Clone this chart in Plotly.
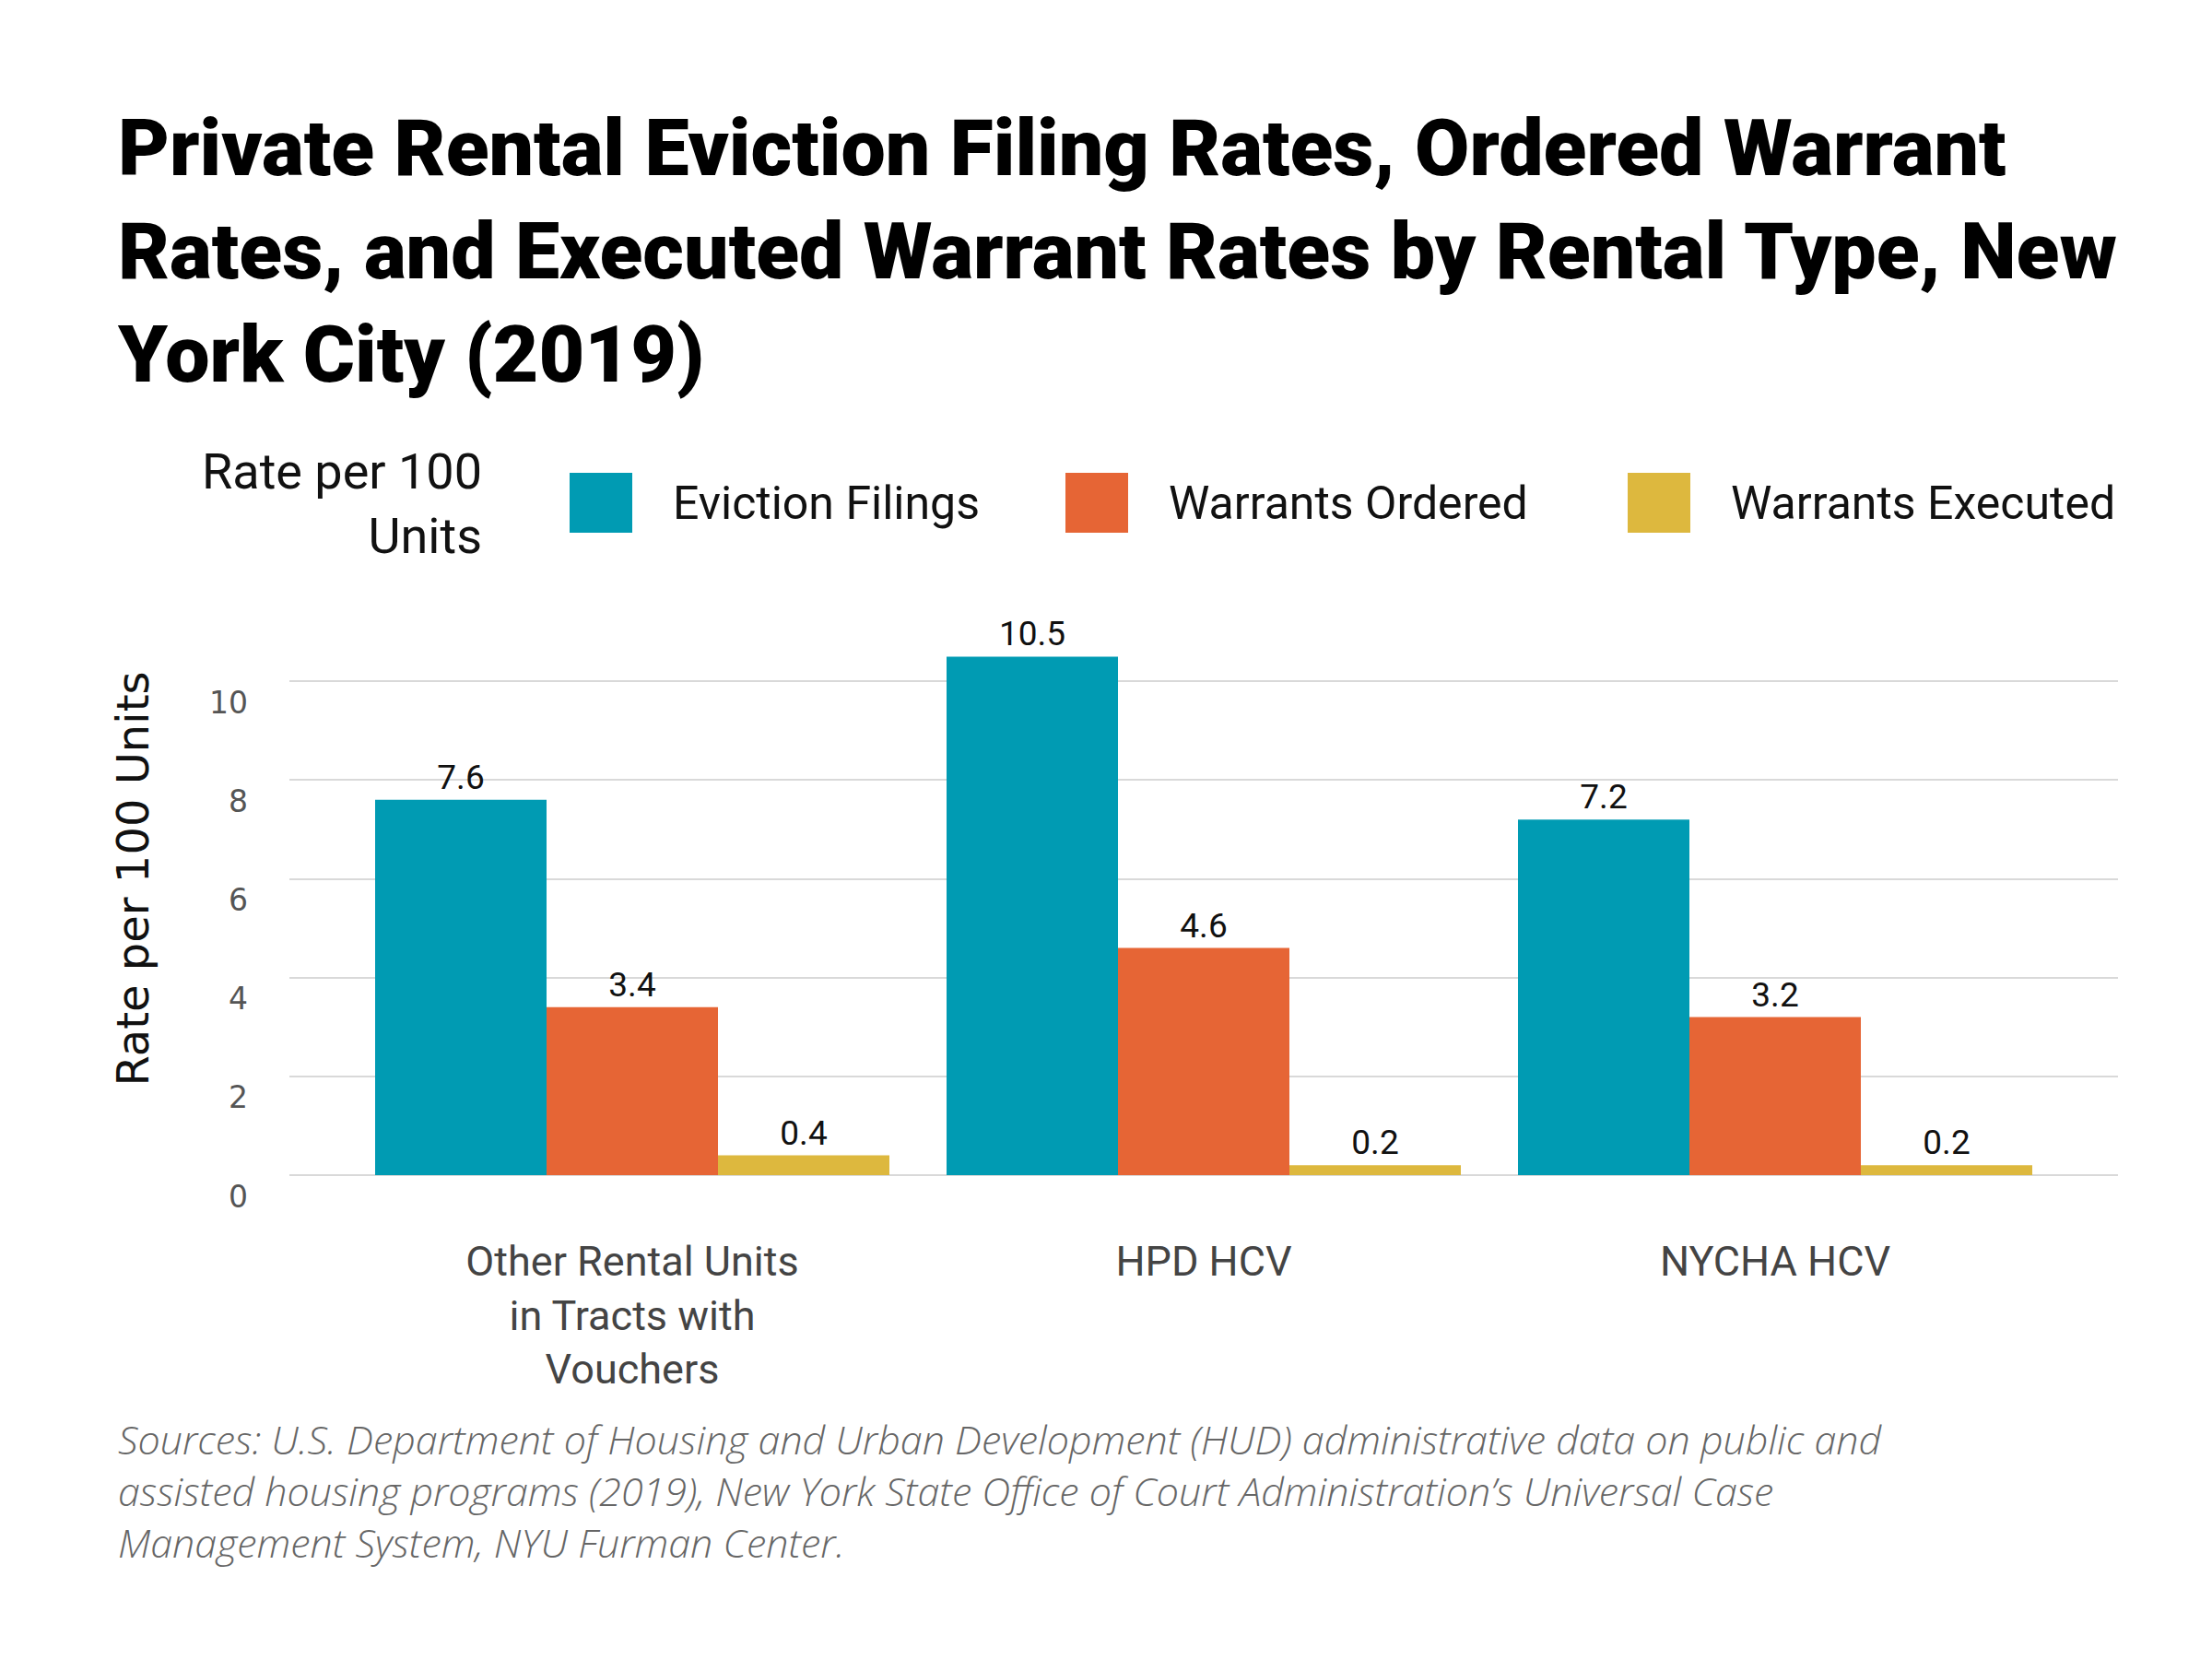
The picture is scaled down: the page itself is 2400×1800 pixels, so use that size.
import plotly.graph_objects as go

categories = ["Other Rental Units<br>in Tracts with<br>Vouchers", "HPD HCV", "NYCHA HCV"]
series_names = ["Eviction Filings", "Warrants Ordered", "Warrants Executed"]
eviction_filings = [7.6, 10.5, 7.2]
warrants_ordered = [3.4, 4.6, 3.2]
warrants_executed = [0.4, 0.2, 0.2]
y_ticks = [0, 2, 4, 6, 8, 10]

colors = ["#009bb3", "#e66535", "#ddb83e"]

title = ("Private Rental Eviction Filing Rates, Ordered Warrant<br>"
         "Rates, and Executed Warrant Rates by Rental Type, New<br>"
         "York City (2019)")
source = ("Sources: U.S. Department of Housing and Urban Development (HUD) administrative data on public and<br>"
          "assisted housing programs (2019), New York State Office of Court Administration\u2019s Universal Case<br>"
          "Management System, NYU Furman Center.")

W, H = 2400, 1800
OFF = 8  # page body margin pushes the figure 8px right/down
L, R, T, B = 314 - OFF, 102 + OFF, 632 - OFF, 525 + OFF


def px(x):
    # page pixel -> paper x
    return (x - OFF - L) / (W - L - R)


def py(y):
    # page pixel -> paper y
    return (H - B - (y - OFF)) / (H - T - B)


fig = go.Figure()
for name, vals, col in zip(series_names, [eviction_filings, warrants_ordered, warrants_executed], colors):
    fig.add_trace(go.Bar(
        x=categories, y=vals, name=name, marker=dict(color=col, line=dict(width=0)),
        texttemplate="%{y:.1f}", textposition="outside",
        textfont=dict(family="Roboto", size=37, color="#111"),
        cliponaxis=False, showlegend=False,
    ))

# hand-drawn legend with big square swatches
legend_x = [618, 1156, 1766]
shapes = []
annotations = []
for name, col, x0 in zip(series_names, colors, legend_x):
    shapes.append(dict(type="rect", xref="paper", yref="paper",
                       x0=px(x0), x1=px(x0 + 68), y0=py(578), y1=py(513),
                       fillcolor=col, line=dict(width=0)))
    annotations.append(dict(text=name, xref="paper", yref="paper", x=px(x0 + 110), y=py(546),
                            xanchor="left", yanchor="middle", showarrow=False,
                            font=dict(family="Roboto", size=50, color="#111")))
annotations.append(dict(text="Rate per 100<br>Units", xref="paper", yref="paper", x=px(525), y=py(546),
                        xanchor="right", yanchor="middle", align="right", showarrow=False,
                        font=dict(family="Roboto", size=54, color="#111")))
annotations.append(dict(text=source, xref="paper", yref="paper", x=px(126), y=py(1530),
                        xanchor="left", yanchor="top", align="left", showarrow=False,
                        font=dict(family="Open Sans", size=43, weight=300, color="#666", style="italic")))

fig.update_layout(
    width=W, height=H,
    margin=dict(l=L, r=R, t=T, b=B, autoexpand=False),
    paper_bgcolor="white", plot_bgcolor="white",
    barmode="group", bargap=0.1, bargroupgap=0,
    title=dict(text=title, xref="container", yref="container", x=120 / W, xanchor="left",
               y=1 - 182 / H, yanchor="top",
               font=dict(family="Roboto", size=86, weight=900, color="#000")),
    xaxis=dict(range=[-0.6, 2.6], showgrid=False, showline=False, ticks="",
               ticklabelstandoff=63,
               tickfont=dict(family="Roboto", size=45, color="#444")),
    yaxis=dict(range=[0, 12], tickvals=y_ticks, showgrid=True, gridcolor="#d9d9d9", gridwidth=2,
               zeroline=True, zerolinecolor="#d9d9d9", zerolinewidth=2, showline=False, ticks="",
               ticklabelposition="outside bottom", ticklabelstandoff=44,
               tickfont=dict(family="DejaVu Sans", size=33, color="#555"),
               title=dict(text="Rate per 100 Units", standoff=50,
                          font=dict(family="DejaVu Sans", size=48, color="#111"))),
    shapes=shapes,
    annotations=annotations,
)

fig.write_html("out.html")
